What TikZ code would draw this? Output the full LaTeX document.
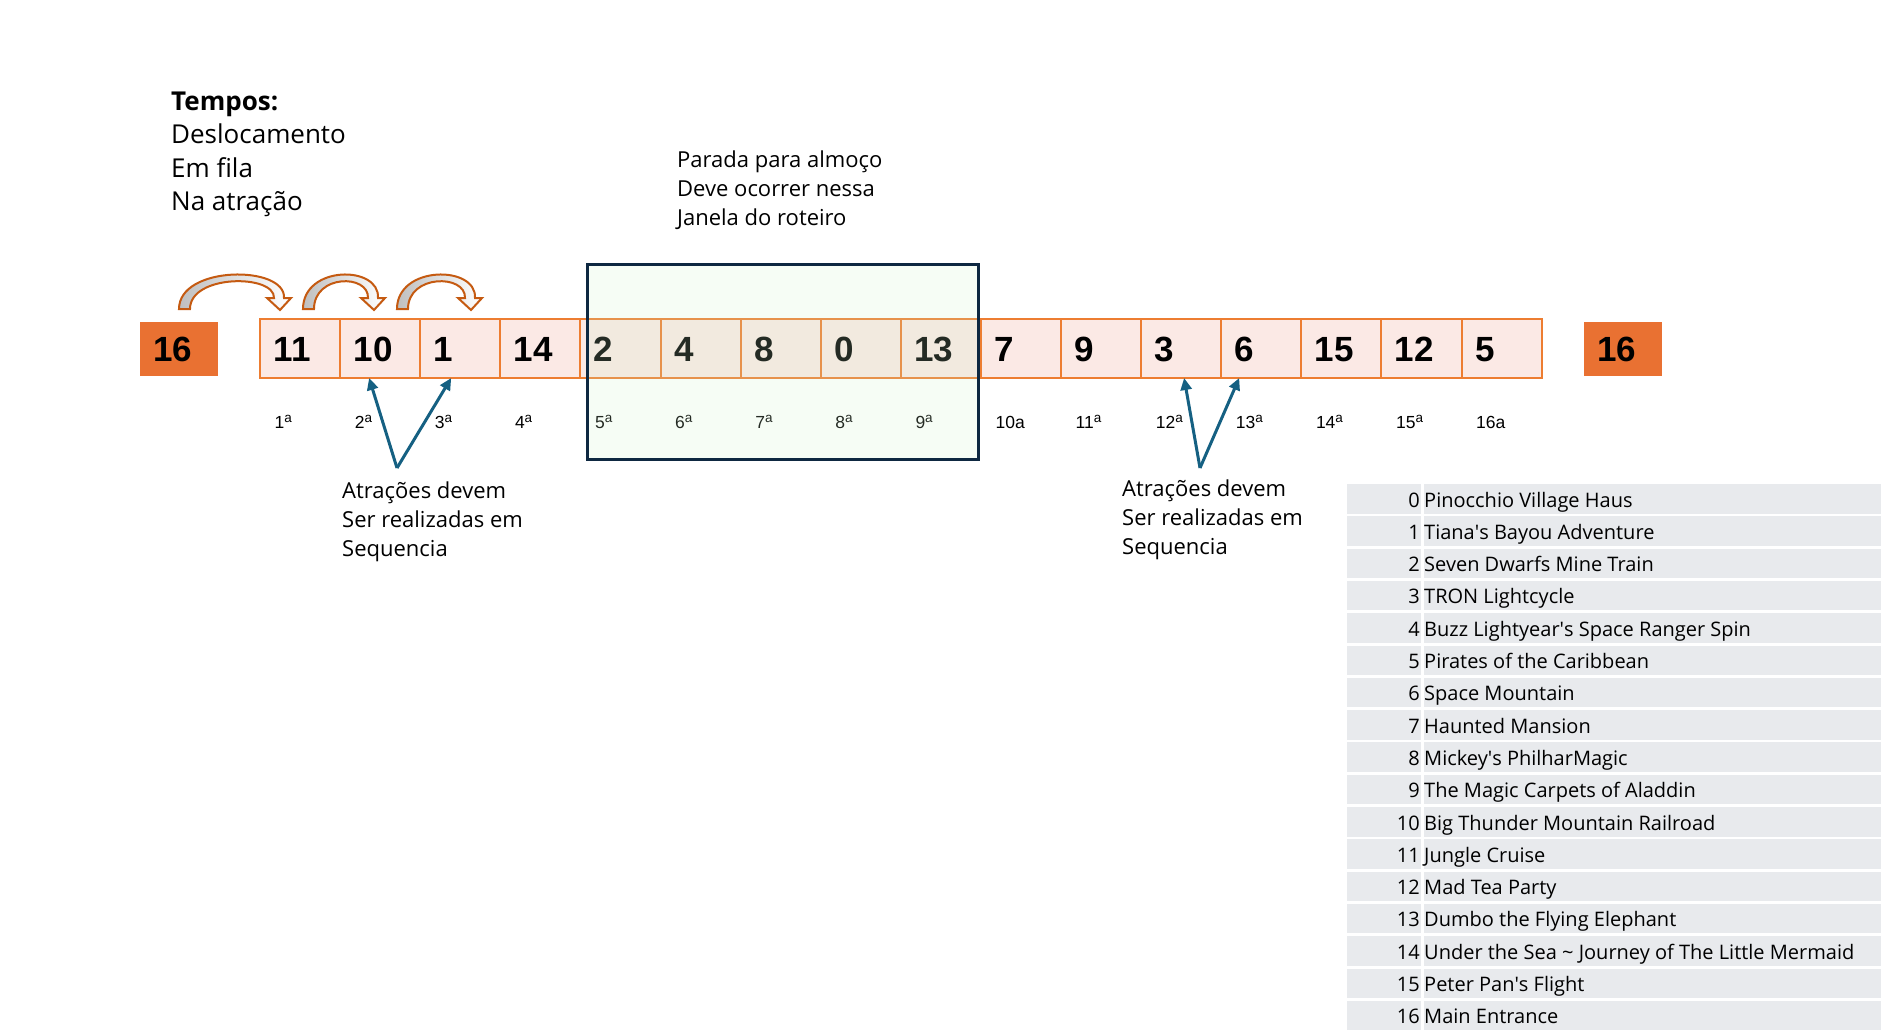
\documentclass[tikz,border=0pt]{standalone}
\usepackage{fontspec}
\usetikzlibrary{matrix,fit,positioning,arrows.meta}
\newfontfamily\cellfont{Liberation Sans}
\newfontfamily\aptos{Open Sans}
\definecolor{parkorange}{RGB}{233,113,50}
\definecolor{cellfill}{RGB}{251,233,229}
\definecolor{cellline}{RGB}{237,125,49}
\definecolor{hopline}{RGB}{197,90,17}
\definecolor{lunchline}{RGB}{14,40,65}
\definecolor{lunchfill}{RGB}{205,242,200}
\definecolor{seqblue}{RGB}{21,96,130}
\definecolor{legendgray}{RGB}{232,234,237}
\newcommand\ordsup[1]{#1\raisebox{5.5pt}{\fontsize{13.5}{13.5}\selectfont a}}

\begin{document}
\begin{tikzpicture}[x=1pt,y=-1pt,
  cellbox/.style={draw=cellline,line width=2pt,fill=cellfill,minimum width=80.1pt,minimum height=59pt,
    inner xsep=13.5pt,inner ysep=0pt,outer sep=0pt,text width=53.1pt,align=left,
    text height=25pt,text depth=0pt,font=\cellfont\bfseries\fontsize{35}{35}\selectfont},
  endbox/.style={cellbox,draw=none,fill=parkorange,minimum width=78pt,minimum height=54pt,text width=51pt},
  ordlbl/.style={anchor=base west,inner sep=0pt,font=\cellfont\fontsize{17.5}{17.5}\selectfont},
  note/.style={anchor=base west,inner sep=0pt,font=\aptos\fontsize{22}{22}\selectfont},
  timenote/.style={note,font=\aptos\fontsize{26}{26}\selectfont},
  legendnum/.style={anchor=base east,inner sep=0pt,font=\aptos\fontsize{20}{20}\selectfont},
  legendname/.style={anchor=base west,inner sep=0pt,font=\aptos\fontsize{20}{20}\selectfont},
  lunchwin/.style={draw=lunchline,line width=3pt,fill=lunchfill,fill opacity=0.18,draw opacity=1,inner sep=0pt},
  seqarrow/.style={draw=seqblue,line width=3pt,-{Triangle[length=12pt,width=11pt]}},
  hop/.style={draw=hopline,line width=2pt,left color=black!25,right color=white}]
\useasboundingbox (0,0) rectangle (1881,1034);

\node[timenote,font=\aptos\bfseries\fontsize{26}{26}\selectfont] (tempos) at (171,110) {Tempos:};
\foreach \t [count=\k] in {Deslocamento,Em fila,Na atração}
  \node[timenote] (tempo\k) at (171,{110+33.5*\k}) {\t};
\foreach \t [count=\k] in {Parada para almoço,Deve ocorrer nessa,Janela do roteiro}
  \node[note] (lunchnote\k) at (677,{138+29*\k}) {\t};

\matrix[matrix of nodes,nodes={cellbox},column sep=-2pt,inner sep=0pt,outer sep=0pt,anchor=west] (seq) at (259,348.5)
{
  11 & 10 & 1 & 14 & 2 & 4 & 8 & 0 & 13 & 7 & 9 & 3 & 6 & 15 & 12 & 5\\
};
\node[endbox,left=41pt of seq] (start) {16};
\node[endbox,right=41pt of seq] (finish) {16};

\foreach \i in {1,...,16}
  \node[ordlbl] (ord\i) at ([shift={(14.5,50)}]seq-1-\i.south west)
    {\ifnum\i=10 \i a\else\ifnum\i=16 \i a\else\ordsup{\i}\fi\fi};

\node[lunchwin,fit={([shift={(7.5,-55)}]seq-1-5.north west) ([shift={(-2,81)}]seq-1-9.south east)}] (lunch) {};

% saltos
\foreach \bx/\tx in {179/280,303/374,397/471}
  \draw[hop] (\bx,309) .. controls (\bx,265) and (\tx+6,265) .. (\tx+4,298) -- (\tx+11,298) -- (\tx,310)
    -- (\tx-13,298) -- (\tx-6,298) .. controls (\tx-5,274) and (\bx+11,274) .. (\bx+11,309) -- cycle;

\coordinate (fork1) at (397,468);
\coordinate (fork2) at (1200,468);
\draw[seqarrow] (fork1) -- ([xshift=29pt]seq-1-2.south west);
\draw[seqarrow] (fork1) -- ([xshift=31pt]seq-1-3.south west);
\draw[seqarrow] (fork2) -- ([xshift=43pt]seq-1-12.south west);
\draw[seqarrow] (fork2) -- ([xshift=18pt]seq-1-13.south west);
\foreach \t [count=\k] in {Atrações devem,Ser realizadas em,Sequencia}{
  \node[note] (seqnoteA\k) at (342,{470+28.7*\k}) {\t};
  \node[note] (seqnoteB\k) at (1122,{468+28.7*\k}) {\t};
}

\foreach \n/\t in {0/Pinocchio Village Haus,1/Tiana\textquotesingle s Bayou Adventure,2/Seven Dwarfs Mine Train,
  3/TRON Lightcycle,4/Buzz Lightyear\textquotesingle s Space Ranger Spin,5/Pirates of the Caribbean,
  6/Space Mountain,7/Haunted Mansion,8/Mickey\textquotesingle s PhilharMagic,9/The Magic Carpets of Aladdin,
  10/Big Thunder Mountain Railroad,11/Jungle Cruise,12/Mad Tea Party,13/Dumbo the Flying Elephant,
  14/Under the Sea \textasciitilde{} Journey of The Little Mermaid,15/Peter Pan\textquotesingle s Flight,16/Main Entrance}{
  \fill[legendgray] (1347,{484+32.3*\n}) rectangle (1421,{513.5+32.3*\n});
  \fill[legendgray] (1423.5,{484+32.3*\n}) rectangle (1881,{513.5+32.3*\n});
  \node[legendnum] (num\n) at (1420,{507+32.3*\n}) {\n};
  \node[legendname] (attr\n) at (1424,{507+32.3*\n}) {\t};
}
\end{tikzpicture}
\end{document}
